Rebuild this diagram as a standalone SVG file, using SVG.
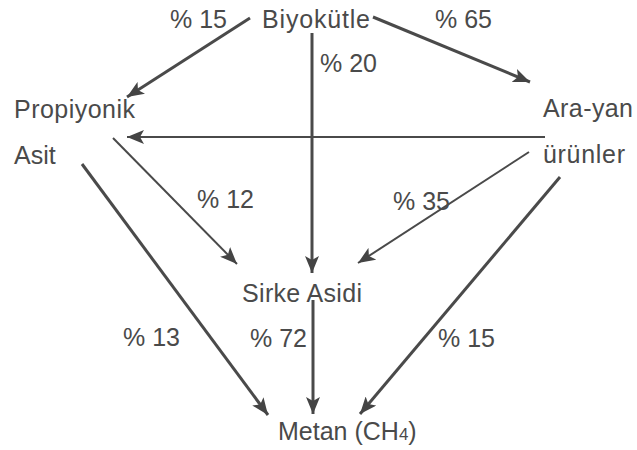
<svg xmlns="http://www.w3.org/2000/svg" width="637" height="450" viewBox="0 0 637 450">
<style>
text{font-family:"Liberation Sans",Arial,sans-serif;font-size:25px;fill:#4a4a4a}
.c line{stroke:#4a4a4a;fill:none}
.t{stroke-width:3}
.n{stroke-width:2}
</style>
<defs>
<marker id="ah" markerUnits="userSpaceOnUse" markerWidth="18" markerHeight="14" viewBox="0 0 18 14" refX="17" refY="7" orient="auto">
<path d="M0,0 L17,7 L0,14 L4,7 Z" fill="#444"/>
</marker>
</defs>
<rect width="637" height="450" fill="#fff"/>
<g class="c" id="connectors">
<line class="t" x1="250" y1="18" x2="127" y2="97" marker-end="url(#ah)"/>
<line class="t" x1="373" y1="17" x2="530" y2="82" marker-end="url(#ah)"/>
<line class="t" x1="312" y1="33" x2="312" y2="273" marker-end="url(#ah)"/>
<line class="n" x1="545" y1="137" x2="127" y2="137" marker-end="url(#ah)"/>
<line class="n" x1="113" y1="138" x2="237" y2="264" marker-end="url(#ah)"/>
<line class="t" x1="82" y1="164" x2="268" y2="415" marker-end="url(#ah)"/>
<line class="n" x1="529" y1="152" x2="358" y2="263" marker-end="url(#ah)"/>
<line class="t" x1="560" y1="177" x2="360" y2="414" marker-end="url(#ah)"/>
<line class="t" x1="313" y1="300" x2="313" y2="414" marker-end="url(#ah)"/>
</g>
<g id="biyokutle"><text x="262" y="28" textLength="108">Biyokütle</text></g>
<g id="propiyonik"><text x="14" y="118" textLength="121">Propiyonik</text><text x="14" y="164">Asit</text></g>
<g id="arayan"><text x="543" y="117" textLength="90">Ara-yan</text><text x="543" y="163" textLength="82">ürünler</text></g>
<g id="sirke"><text x="242" y="302" textLength="120">Sirke Asidi</text></g>
<g id="metan"><text x="278" y="440">Metan (CH<tspan font-size="17">4</tspan>)</text></g>
<g id="labels">
<text x="170" y="28">% 15</text>
<text x="435" y="28">% 65</text>
<text x="320" y="72">% 20</text>
<text x="197" y="208">% 12</text>
<text x="393" y="210">% 35</text>
<text x="123" y="346">% 13</text>
<text x="250" y="347">% 72</text>
<text x="438" y="347">% 15</text>
</g>
</svg>
